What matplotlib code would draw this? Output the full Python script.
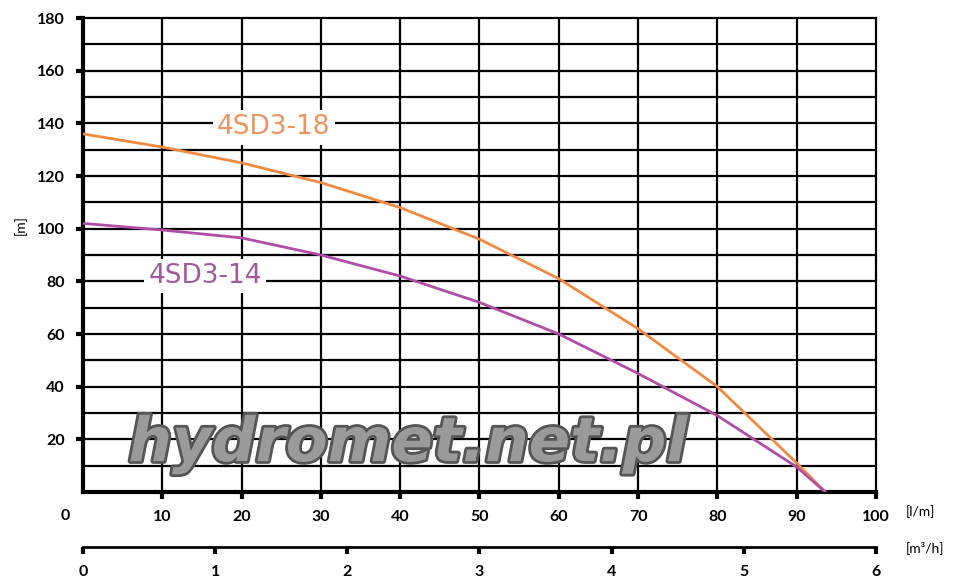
import matplotlib.pyplot as plt
import matplotlib.patheffects as pe
import numpy as np

# flow [l/min] vs head [m]
flow_18 = [0, 10, 20, 30, 40, 50, 60, 70, 80, 90, 93.6]
head_18 = [136, 131, 125, 117.5, 108, 96, 81, 62, 40, 11, 0]
flow_14 = [0, 10, 20, 30, 40, 50, 60, 70, 80, 90, 93.6]
head_14 = [102, 99.5, 96.5, 90, 82, 72, 60, 45, 29, 9.5, 0]

x_ticks = [10, 20, 30, 40, 50, 60, 70, 80, 90, 100]
y_ticks = [20, 40, 60, 80, 100, 120, 140, 160, 180]
m3h_ticks = [0, 1, 2, 3, 4, 5, 6]

orange = '#F08A42'
purple = '#B04DA6'
font = 'Lato'

fig = plt.figure(figsize=(9.58, 5.83), dpi=100)
ax = fig.add_axes([0.0866, 0.1561, 0.8278, 0.813])

ax.set_xlim(0, 100)
ax.set_ylim(0, 180)
for v in range(10, 100, 10):
    ax.axvline(v, color='black', lw=1.6, zorder=1)
for v in range(10, 180, 10):
    ax.axhline(v, color='black', lw=1.6, zorder=1)

ax.plot(flow_18, head_18, color=orange, lw=2, zorder=3)
ax.plot(flow_14, head_14, color=purple, lw=2, zorder=3)

ax.text(31.2, 138.5, '4SD3-18', color='#EE9460', fontsize=19,
        family='DejaVu Sans', ha='right', va='center', zorder=4,
        bbox=dict(facecolor='white', edgecolor='none', pad=3))
ax.text(22.6, 82, '4SD3-14', color='#A05C9A', fontsize=19,
        family='DejaVu Sans', ha='right', va='center', zorder=4,
        bbox=dict(facecolor='white', edgecolor='none', pad=3))

ax.text(41, 18, 'hydromet.net.pl', fontsize=44, fontweight='bold',
        style='italic', family='DejaVu Sans', color='#9a9a9a',
        ha='center', va='center', zorder=5,
        path_effects=[pe.withStroke(linewidth=4, foreground='#555555')])

for s in ['top', 'right']:
    ax.spines[s].set_linewidth(1.6)
for s in ['left', 'bottom']:
    ax.spines[s].set_linewidth(3)

ax.set_xticks(x_ticks)
ax.set_yticks(y_ticks)
ax.tick_params(direction='out', length=5, width=3, labelsize=11.5, pad=8)
for lab in ax.get_xticklabels() + ax.get_yticklabels():
    lab.set_family(font)
    lab.set_fontweight('bold')

fig.text(0.021, 0.614, '[m]', fontsize=10, family=font, rotation=90,
         ha='center', va='center')
fig.text(0.068, 0.115, '0', fontsize=11.5, family=font, fontweight='bold',
         ha='center', va='center')
fig.text(0.945, 0.122, '[l/m]', fontsize=10, family=font, ha='left', va='center')
fig.text(0.945, 0.06, '[m³/h]', fontsize=10, family=font, ha='left', va='center')

ax2 = fig.add_axes([0.0866, 0.0617, 0.8278, 0.0001])
ax2.set_xlim(0, 6)
ax2.set_xticks(m3h_ticks)
ax2.set_yticks([])
for s in ['top', 'right', 'left']:
    ax2.spines[s].set_visible(False)
ax2.spines['bottom'].set_linewidth(2)
ax2.tick_params(direction='out', length=5, width=3, labelsize=11.5, pad=8)
for lab in ax2.get_xticklabels():
    lab.set_family(font)
    lab.set_fontweight('bold')

fig.savefig('out.png', dpi=100)
